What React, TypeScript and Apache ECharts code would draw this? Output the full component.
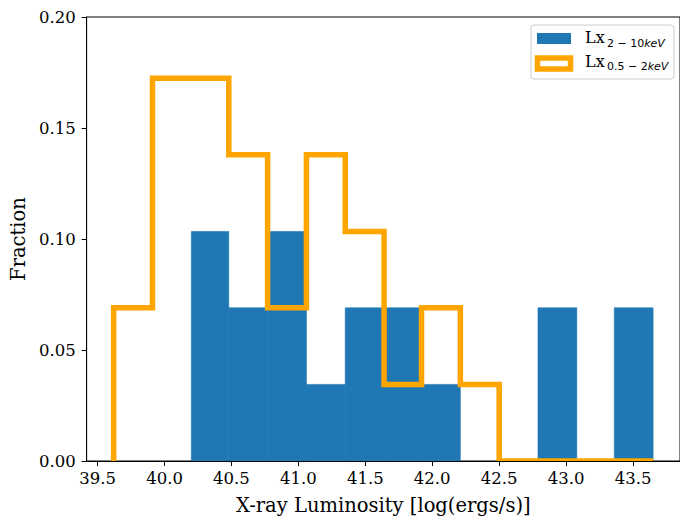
import React, { useEffect, useRef } from "react";
import * as echarts from "echarts";

// Histogram bin edges (log erg/s)
const binEdges = [39.62, 39.91, 40.2, 40.48, 40.77, 41.06, 41.35, 41.64, 41.92, 42.21, 42.5, 42.79, 43.08, 43.36, 43.65];
// Fraction per bin, Lx 2-10 keV (filled bars)
const hardFraction = [0, 0, 0.1034, 0.069, 0.1034, 0.0345, 0.069, 0.069, 0.0345, 0, 0, 0.069, 0, 0.069];
// Fraction per bin, Lx 0.5-2 keV (step outline)
const softFraction = [0.069, 0.1724, 0.1724, 0.1379, 0.069, 0.1379, 0.1034, 0.0345, 0.069, 0.0345, 0, 0, 0, 0];
// Axis ticks
const xTickValues = [39.5, 40.0, 40.5, 41.0, 41.5, 42.0, 42.5, 43.0, 43.5];
const xRange = [39.418, 43.851];
const yRange = [0, 0.2];
const yStep = 0.05;

const FONT = "DejaVu Serif";
const BLUE = "#1f77b4";
const ORANGE = "#FFA500";

export default function App() {
  const ref = useRef<HTMLDivElement>(null);

  useEffect(() => {
    if (!ref.current) return;
    const chart = echarts.init(ref.current, null, { renderer: "svg" });

    const barData = hardFraction
      .map((v, i) => [binEdges[i], binEdges[i + 1], v])
      .filter((d) => d[2] > 0);

    const stepData: number[][] = [[binEdges[0], 0]];
    softFraction.forEach((v, i) => {
      stepData.push([binEdges[i], v]);
      stepData.push([binEdges[i + 1], v]);
    });
    stepData.push([binEdges[binEdges.length - 1], 0]);

    const subRich = {
      n: { fontFamily: "DejaVu Sans", fontSize: 11, fill: "#000" },
      i: { fontFamily: "DejaVu Sans", fontStyle: "italic", fontSize: 11, fill: "#000" },
    };

    const option: any = {
      animation: false,
      backgroundColor: "#ffffff",
      grid: {
        left: 86,
        top: 17,
        width: 597,
        height: 444,
        show: true,
        borderColor: "#000",
        borderWidth: 1,
        backgroundColor: "transparent",
      },
      xAxis: {
        type: "value",
        min: xRange[0],
        max: xRange[1],
        z: 10,
        name: "X-ray Luminosity [log(ergs/s)]",
        nameLocation: "middle",
        nameGap: 34,
        nameTextStyle: { fontFamily: FONT, fontSize: 19.5, color: "#000" },
        axisLine: { show: true, onZero: false, lineStyle: { color: "#000", width: 1 } },
        axisTick: { show: true, length: 5, customValues: xTickValues, lineStyle: { color: "#000", width: 1 } },
        axisLabel: {
          customValues: xTickValues,
          margin: 9,
          fontFamily: FONT,
          fontSize: 16.5,
          color: "#000",
          formatter: (v: number) => v.toFixed(1),
        },
        splitLine: { show: false },
      },
      yAxis: {
        type: "value",
        min: yRange[0],
        max: yRange[1],
        interval: yStep,
        z: 10,
        name: "Fraction",
        nameLocation: "middle",
        nameGap: 56,
        nameTextStyle: { fontFamily: FONT, fontSize: 19.5, color: "#000" },
        axisLine: { show: true, lineStyle: { color: "#000", width: 1 } },
        axisTick: { show: true, length: 5, lineStyle: { color: "#000", width: 1 } },
        axisLabel: {
          margin: 11,
          fontFamily: FONT,
          fontSize: 16.5,
          color: "#000",
          formatter: (v: number) => v.toFixed(2),
        },
        splitLine: { show: false },
      },
      series: [
        {
          type: "custom",
          name: "hard",
          z: 2,
          data: barData,
          encode: { x: [0, 1], y: 2 },
          renderItem: (params: any, api: any) => {
            const p0 = api.coord([api.value(0), api.value(2)]);
            const p1 = api.coord([api.value(1), 0]);
            return {
              type: "rect",
              shape: { x: p0[0], y: p0[1], width: p1[0] - p0[0], height: p1[1] - p0[1] },
              style: { fill: BLUE, stroke: BLUE, lineWidth: 0.6 },
            };
          },
        },
        {
          type: "line",
          name: "soft",
          z: 3,
          data: stepData,
          showSymbol: false,
          symbol: "none",
          lineStyle: { color: ORANGE, width: 5.5, join: "miter", cap: "butt" },
        },
      ],
      graphic: [
        {
          type: "rect",
          z: 5,
          shape: { x: 80, y: 461.5, width: 600, height: 6 },
          style: { fill: "#ffffff" },
          silent: true,
        },
        {
          type: "rect",
          z: 20,
          shape: { x: 531, y: 25, width: 143, height: 54, r: 3 },
          style: { fill: "rgba(255,255,255,0.8)", stroke: "#cccccc", lineWidth: 1 },
        },
        {
          type: "rect",
          z: 21,
          shape: { x: 537, y: 33, width: 34, height: 11 },
          style: { fill: BLUE },
        },
        {
          type: "rect",
          z: 21,
          shape: { x: 537.5, y: 58, width: 33, height: 11 },
          style: { fill: "#ffffff", stroke: ORANGE, lineWidth: 5.5, lineJoin: "miter" },
        },
        {
          type: "text",
          z: 21,
          x: 585,
          y: 37.8,
          style: { text: "Lx", fontFamily: FONT, fontSize: 16, fill: "#000", verticalAlign: "middle" },
        },
        {
          type: "text",
          z: 21,
          x: 607,
          y: 43,
          style: { text: "{n|2 − 10}{i|keV}", verticalAlign: "middle", rich: subRich },
        },
        {
          type: "text",
          z: 21,
          x: 585,
          y: 61.5,
          style: { text: "Lx", fontFamily: FONT, fontSize: 16, fill: "#000", verticalAlign: "middle" },
        },
        {
          type: "text",
          z: 21,
          x: 607,
          y: 66.5,
          style: { text: "{n|0.5 − 2}{i|keV}", verticalAlign: "middle", rich: subRich },
        },
      ],
    };

    chart.setOption(option);
    return () => chart.dispose();
  }, []);

  return <div ref={ref} style={{ position: "absolute", left: 0, top: 0, width: 680, height: 520 }} />;
}
